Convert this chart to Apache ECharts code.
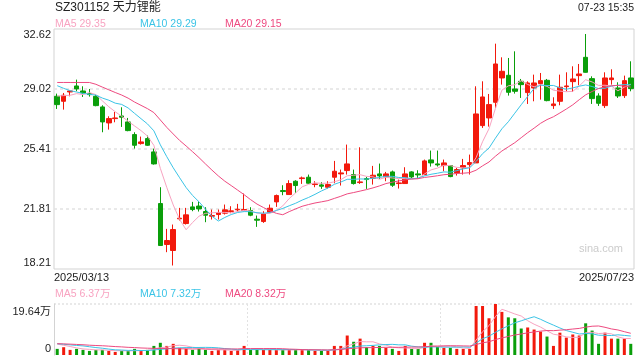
<!DOCTYPE html>
<html><head><meta charset="utf-8">
<script src="https://cdn.jsdelivr.net/npm/echarts@6/dist/echarts.min.js"></script>
<style>html,body{margin:0;padding:0;background:#fff}#c{width:640px;height:360px}</style>
</head><body><div id="c"></div>
<script>
const stockName = 'SZ301152 天力锂能';
const timeStamp = '07-23 15:35';
const dates = [
'2025/03/13','2025/03/14','2025/03/17','2025/03/18','2025/03/19','2025/03/20','2025/03/21','2025/03/24','2025/03/25','2025/03/26','2025/03/27','2025/03/28','2025/03/31',
'2025/04/01','2025/04/02','2025/04/03','2025/04/07','2025/04/08','2025/04/09','2025/04/10','2025/04/11','2025/04/14','2025/04/15','2025/04/16','2025/04/17','2025/04/18','2025/04/21','2025/04/22','2025/04/23','2025/04/24','2025/04/25','2025/04/28','2025/04/29','2025/04/30',
'2025/05/06','2025/05/07','2025/05/08','2025/05/09','2025/05/12','2025/05/13','2025/05/14','2025/05/15','2025/05/16','2025/05/19','2025/05/20','2025/05/21','2025/05/22','2025/05/23','2025/05/26','2025/05/27','2025/05/28','2025/05/29','2025/05/30',
'2025/06/03','2025/06/04','2025/06/05','2025/06/06','2025/06/09','2025/06/10','2025/06/11','2025/06/12','2025/06/13','2025/06/16','2025/06/17','2025/06/18','2025/06/19','2025/06/20','2025/06/23','2025/06/24','2025/06/25','2025/06/26','2025/06/27','2025/06/30',
'2025/07/01','2025/07/02','2025/07/03','2025/07/04','2025/07/07','2025/07/08','2025/07/09','2025/07/10','2025/07/11','2025/07/14','2025/07/15','2025/07/16','2025/07/17','2025/07/18','2025/07/21','2025/07/22','2025/07/23'];

const openP = [
28.58,28.28,28.84,29.2,28.9,28.74,28.58,27.94,26.98,27.24,
27.4,27.04,26.28,25.74,26.04,25.24,22.14,19.68,19.32,21.22,
20.94,21.94,21.99,21.66,21.38,21.48,21.56,21.66,21.76,21.72,
21.72,21.2,21.06,21.62,22.24,22.92,22.68,23.48,23.64,23.72,
23.28,23.26,23.12,23.72,23.92,24.12,23.88,23.4,23.64,23.66,
23.92,23.74,24.04,23.34,23.34,24.04,23.92,23.88,24.76,24.52,
24.42,24.42,23.98,24.28,24.48,24.58,26.82,27.28,28.22,29.68,
29.84,29.02,29.48,28.8,29.08,29.34,29.54,28.02,28.28,29.16,
29.46,29.82,30.92,29.64,28.6,28.02,29.58,29.08,28.62,29.68];
const closeP = [
28.08,28.64,28.9,29.02,28.78,28.68,28.02,27.04,27.24,27.28,
27.32,26.52,25.64,25.84,25.64,24.52,19.62,19.92,20.58,21.26,
21.46,21.78,21.82,21.44,21.42,21.6,21.76,21.7,21.8,21.78,
21.44,21.14,21.52,21.86,22.62,22.86,23.34,23.22,23.68,23.36,
23.32,23.18,23.28,24.08,23.98,24.52,23.34,23.44,23.58,23.84,
23.8,23.92,23.24,23.38,23.92,23.74,23.86,24.7,24.58,24.46,
24.58,23.76,24.18,24.42,24.6,27.52,28.54,28.08,30.52,30.08,
28.82,28.88,29.28,29.38,29.38,29.52,28.32,28.12,29.12,29.2,
29.62,29.92,30.02,28.44,28.16,29.68,29.68,28.6,29.52,29.04];
const lowP = [
27.82,27.78,28.58,28.88,28.54,28.56,27.98,26.42,26.58,27.02,
26.74,26.48,25.44,25.68,25.6,24.48,19.62,19.22,18.42,21.12,
20.88,21.68,21.66,21.02,21.18,21.18,21.48,21.56,21.66,21.68,
21.38,20.74,20.98,21.56,21.94,22.64,22.68,22.78,23.32,23.32,
23.12,23.02,23.04,23.36,23.22,23.88,23.28,23.32,23.02,23.28,
23.62,23.48,23.14,23.04,23.34,23.64,23.68,23.84,24.36,24.36,
24.08,23.72,23.82,23.88,23.88,24.58,26.68,26.76,27.88,29.28,
28.62,28.74,28.48,28.12,28.28,28.38,28.28,27.82,28.04,28.88,
28.84,29.24,30.0,28.12,28.0,27.88,29.28,28.48,28.48,28.88];
const highP = [
28.74,28.78,28.96,29.58,29.18,29.02,28.68,28.04,27.38,27.64,
27.92,27.28,26.42,26.16,26.22,25.44,23.12,20.62,20.88,21.88,
21.88,22.24,22.28,21.92,21.78,21.78,22.08,21.98,22.12,22.74,
21.92,21.42,21.68,22.08,22.68,23.24,23.54,23.54,23.76,23.88,
23.48,23.42,23.48,24.7,24.18,25.68,24.18,25.52,23.74,24.4,
24.54,24.04,24.12,23.58,24.32,24.08,24.14,24.78,25.32,25.32,
24.78,24.44,24.28,24.82,25.08,29.18,29.48,28.72,31.74,30.92,
30.88,31.28,29.62,29.48,29.88,29.98,29.62,28.52,29.88,30.02,
30.38,30.52,32.32,29.78,28.76,30.02,30.2,29.42,29.82,30.68];
// volume, in 万 shares
const volume = [
2.36,3.0,1.97,2.36,1.97,1.57,1.97,1.97,1.57,1.18,
1.57,1.57,2.36,1.57,1.97,3.5,4.7,3.5,4.3,2.75,
2.36,1.97,2.36,1.97,1.57,1.97,1.97,1.57,1.97,3.5,
1.97,1.97,1.97,1.97,1.97,1.97,1.97,1.97,1.97,1.97,
1.57,1.57,1.57,3.5,3.5,7.5,5.1,6.3,3.0,3.5,
3.5,2.75,2.36,1.57,3.5,2.36,2.36,4.7,4.7,3.1,
2.75,2.75,2.36,2.36,2.36,18.86,18.86,14.15,19.64,16.6,
14.5,14.15,10.2,10.6,9.8,9.0,7.1,3.5,8.6,6.7,
7.9,7.5,12.2,9.4,4.3,8.6,6.3,6.3,6.3,4.3];
// sessions before the visible window (needed for the moving averages)
const preClose = [28.64,28.9,29.02,28.78,28.68,30.2,30.4,30.5,30.5,30.4,30.24,30.3,29.82,29.58,29.28,28.49,28.8,28.52,29.06];
const preVolume = [4.6,3.9,4.8,4.2,5.1,4.4,3.8,4.7,4.5,4.0,4.9,4.3,4.6,3.7,4.8,5.2,4.4,4.9,4.1];

const priceMin = 18.21, priceMax = 32.62;
const priceTicks = ['18.21','21.81','25.41','29.02','32.62'];
const volMax = 19.64;
const volTicks = ['0','19.64万'];
const maLegend = ['MA5 29.35','MA10 29.29','MA20 29.15'];
const volMaLegend = ['MA5 6.37万','MA10 7.32万','MA20 8.32万'];
const watermark = 'sina.com';

const RED = '#f2190c', GREEN = '#0a9e0a';
const MA_COLORS = ['#f8a3c1', '#3bc4e6', '#ee4a80'];
const GRID_C = '#d3d3d3', DOT_C = '#e2e2e2';
const FONT = '"Liberation Sans", Arial, "Noto Sans CJK SC", sans-serif';

function movingAvg(pre, arr, n) {
  const all = pre.concat(arr);
  return arr.map((_, i) => {
    const end = pre.length + i;
    let s = 0;
    for (let k = end - n + 1; k <= end; k++) s += all[k];
    return +(s / n).toFixed(3);
  });
}
const candles = openP.map((o, i) => [o, closeP[i], lowP[i], highP[i]]);
const volBars = volume.map((v, i) => ({value: v, itemStyle: {color: closeP[i] >= openP[i] ? RED : GREEN}}));
const periods = [5, 10, 20];

const chart = echarts.init(document.getElementById('c'), null, {renderer: 'canvas'});
const lineSeries = (data, c, xi, yi) => ({type: 'line', data, xAxisIndex: xi, yAxisIndex: yi, symbol: 'none', smooth: false,
  lineStyle: {width: 1, color: c}, itemStyle: {color: c}, silent: true, z: 5});

const legendTexts = [];
[maLegend, volMaLegend].forEach((arr, r) => {
  const xs = [55, 140, 225];
  arr.forEach((t, i) => legendTexts.push({type: 'text', x: xs[i], y: r === 0 ? 24 : 294.5,
    style: {text: t, fill: MA_COLORS[i], font: '10.5px ' + FONT, verticalAlign: 'middle'}}));
});

chart.setOption({
  animation: false,
  backgroundColor: '#fff',
  grid: [
    {left: 54, top: 29, width: 580, height: 240, show: true, borderColor: GRID_C, borderWidth: 1, backgroundColor: 'transparent', containLabel: false},
    {left: 54, top: 304, width: 580, height: 51, show: false, containLabel: false}
  ],
  xAxis: [
    {type: 'category', gridIndex: 0, data: dates, boundaryGap: true, axisLine: {show: false}, axisTick: {show: false}, axisLabel: {show: false}, splitLine: {show: false}},
    {type: 'category', gridIndex: 1, data: dates, boundaryGap: true, axisLine: {show: false}, axisTick: {show: false}, axisLabel: {show: false}, splitLine: {show: false}},
    {type: 'value', gridIndex: 0, min: 0, max: 1, interval: 1, position: 'bottom', offset: 0, axisLine: {show: false}, axisTick: {show: false}, splitLine: {show: false},
      axisLabel: {margin: 3, align: 'left', hideOverlap: false, color: '#222', fontSize: 11, fontFamily: FONT, formatter: v => v === 0 ? dates[0] : ''}},
    {type: 'value', gridIndex: 0, min: 0, max: 1, interval: 1, position: 'bottom', offset: 0, axisLine: {show: false}, axisTick: {show: false}, splitLine: {show: false},
      axisLabel: {margin: 3, align: 'right', hideOverlap: false, color: '#222', fontSize: 11, fontFamily: FONT, formatter: v => v === 1 ? dates[dates.length - 1] : ''}},
    {type: 'value', gridIndex: 1, min: 0, max: 3, interval: 1, axisLine: {show: false}, axisTick: {show: false}, axisLabel: {show: false},
      splitLine: {show: true, showMinLine: false, showMaxLine: false, lineStyle: {color: DOT_C, type: [2, 2], width: 1}}}
  ],
  yAxis: [
    {type: 'value', gridIndex: 0, min: priceMin, max: priceMax, show: false, position: 'right', splitLine: {show: false}},
    {type: 'value', gridIndex: 0, min: 0, max: 4, interval: 1, position: 'left', offset: 0, axisLine: {show: false}, axisTick: {show: false},
      splitLine: {show: true, showMinLine: false, showMaxLine: false, lineStyle: {color: DOT_C, type: [3, 3], width: 1.5}},
      axisLabel: {margin: 3, color: '#222', fontSize: 11, fontFamily: FONT,
        formatter: v => v === 4 ? '{t|' + priceTicks[4] + '}' : v === 0 ? '{b|' + priceTicks[0] + '}' : priceTicks[v],
        rich: {t: {padding: [11, 0, 0, 0], fontSize: 11, fontFamily: FONT, color: '#222'}, b: {padding: [0, 0, 12, 0], fontSize: 11, fontFamily: FONT, color: '#222'}}}},
    {type: 'value', gridIndex: 1, min: 0, max: volMax, interval: volMax, position: 'left',
      axisLine: {show: true, lineStyle: {color: GRID_C, width: 1}}, axisTick: {show: false},
      splitLine: {show: true, showMinLine: false, lineStyle: {color: DOT_C, type: [2, 2], width: 1.5}},
      axisLabel: {margin: 3, color: '#222', fontSize: 11, fontFamily: FONT,
        formatter: v => v === 0 ? '{b|' + volTicks[0] + '}' : '{t|' + volTicks[1] + '}',
        rich: {t: {padding: [15, 0, 0, 0], fontSize: 11, fontFamily: FONT, color: '#222'}, b: {padding: [0, 0, 13, 0], fontSize: 11, fontFamily: FONT, color: '#222'}}}}
  ],
  series: [
    {type: 'candlestick', xAxisIndex: 0, yAxisIndex: 0, data: candles, barWidth: 5,
      itemStyle: {color: RED, color0: GREEN, borderColor: RED, borderColor0: GREEN, borderWidth: 1}, z: 3},
    ...periods.map((p, i) => lineSeries(movingAvg(preClose, closeP, p), MA_COLORS[i], 0, 0)),
    {type: 'bar', xAxisIndex: 1, yAxisIndex: 2, data: volBars, barWidth: 3, z: 3},
    ...periods.map((p, i) => lineSeries(movingAvg(preVolume, volume, p), MA_COLORS[i], 1, 2))
  ],
  graphic: [
    {type: 'text', x: 55, y: 8, style: {text: stockName, fill: '#222', font: '12px ' + FONT, verticalAlign: 'middle'}},
    {type: 'text', x: 634, y: 8, style: {text: timeStamp, fill: '#222', font: '10.5px ' + FONT, verticalAlign: 'middle', align: 'right'}},
    {type: 'text', x: 623, y: 249, style: {text: watermark, fill: '#cccccc', font: '11px ' + FONT, verticalAlign: 'middle', align: 'right'}},
    ...legendTexts
  ]
});
</script></body></html>
